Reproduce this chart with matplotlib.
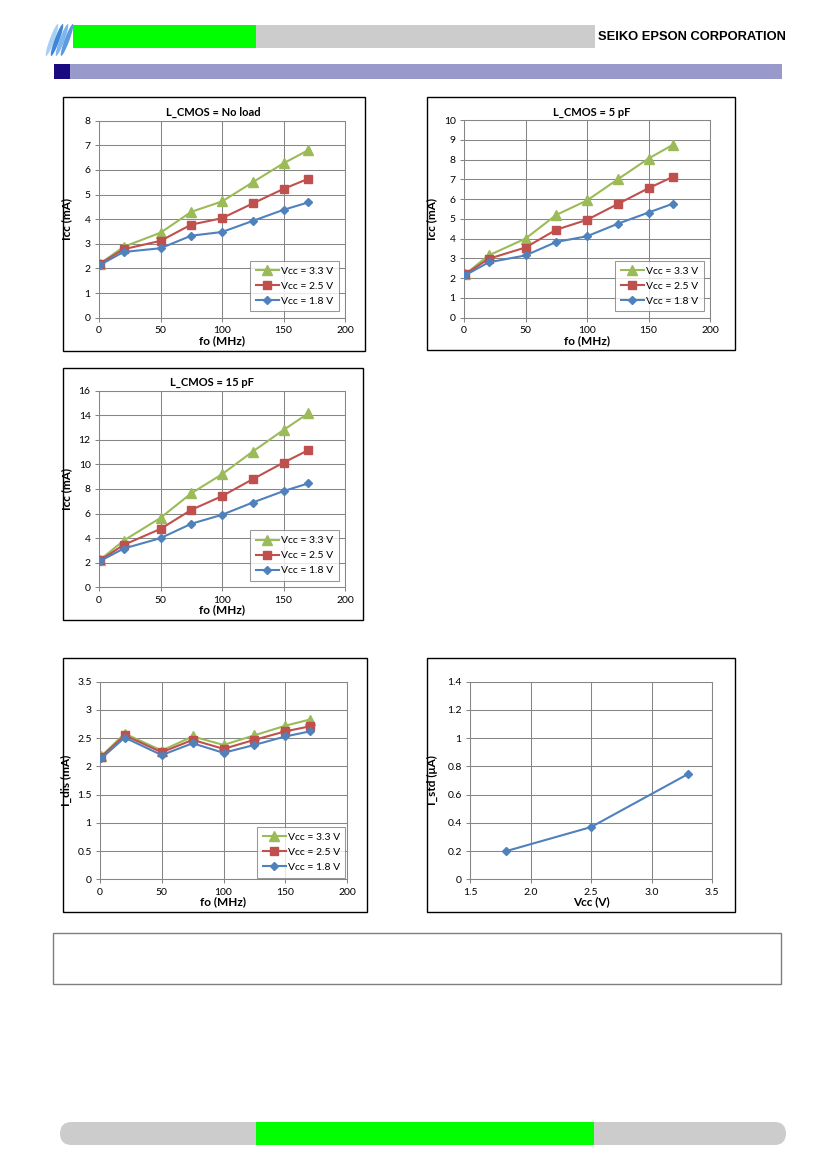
import matplotlib
matplotlib.use("Agg")
import matplotlib.pyplot as plt
from matplotlib.patches import Rectangle, FancyBboxPatch, Ellipse
from matplotlib.ticker import MultipleLocator, FormatStrFormatter, FuncFormatter

plt.rcParams['font.family'] = ['Lato', 'DejaVu Sans']

# ---------------- data ----------------
fo_mhz = [1, 20, 50, 75, 100, 125, 150, 170]
series_labels = ["Vcc = 3.3 V", "Vcc = 2.5 V", "Vcc = 1.8 V"]

icc_noload_33 = [2.20, 2.88, 3.45, 4.30, 4.72, 5.50, 6.27, 6.80]
icc_noload_25 = [2.20, 2.78, 3.12, 3.78, 4.04, 4.64, 5.23, 5.64]
icc_noload_18 = [2.15, 2.67, 2.82, 3.33, 3.48, 3.93, 4.38, 4.68]

icc_5pf_33 = [2.20, 3.15, 4.00, 5.20, 5.93, 7.00, 8.05, 8.75]
icc_5pf_25 = [2.20, 2.98, 3.55, 4.45, 4.95, 5.75, 6.55, 7.13]
icc_5pf_18 = [2.15, 2.80, 3.15, 3.83, 4.12, 4.75, 5.32, 5.77]

icc_15pf_33 = [2.25, 3.80, 5.65, 7.65, 9.20, 11.05, 12.80, 14.15]
icc_15pf_25 = [2.20, 3.45, 4.75, 6.30, 7.42, 8.80, 10.15, 11.15]
icc_15pf_18 = [2.15, 3.15, 4.00, 5.17, 5.90, 6.90, 7.83, 8.45]

idis_33 = [2.18, 2.58, 2.28, 2.53, 2.38, 2.55, 2.72, 2.83]
idis_25 = [2.17, 2.55, 2.25, 2.47, 2.31, 2.47, 2.62, 2.71]
idis_18 = [2.14, 2.51, 2.20, 2.41, 2.24, 2.38, 2.53, 2.62]

vcc_v = [1.8, 2.5, 3.3]
istd_ua = [0.20, 0.37, 0.745]

titles = ["L_CMOS = No load", "L_CMOS = 5 pF", "L_CMOS = 15 pF"]

# ---------------- styling ----------------
W, H = 827, 1169
GREEN, RED, BLUE = "#9BBB59", "#C0504D", "#4F81BD"
GRID = "#868686"
colors = [GREEN, RED, BLUE]
markers = ["^", "s", "D"]
msizes = [6.5, 6.0, 4.5]

fig = plt.figure(figsize=(W / 100, H / 100), dpi=100)


def fx(x):
    return x / W


def fy(y):
    return 1 - y / H


def add_axes_px(x0, y0, x1, y1):
    return fig.add_axes([fx(x0), fy(y1), (x1 - x0) / W, (y1 - y0) / H])


def frame_px(x0, y0, x1, y1, ec="black", lw=1.0):
    fig.patches.append(Rectangle((fx(x0), fy(y1)), (x1 - x0) / W, (y1 - y0) / H,
                                 transform=fig.transFigure, fill=False,
                                 edgecolor=ec, linewidth=lw))


def style_axes(ax, xlim, ylim, xstep, ystep, xlabel, ylabel, xfmt=None, yfmt=None):
    ax.set_xlim(*xlim)
    ax.set_ylim(*ylim)
    ax.xaxis.set_major_locator(MultipleLocator(xstep))
    ax.yaxis.set_major_locator(MultipleLocator(ystep))
    if xfmt:
        ax.xaxis.set_major_formatter(xfmt)
    if yfmt:
        ax.yaxis.set_major_formatter(yfmt)
    ax.grid(True, color=GRID, linewidth=0.75)
    ax.set_axisbelow(True)
    for s in ax.spines.values():
        s.set_color(GRID)
        s.set_linewidth(0.75)
    ax.tick_params(labelsize=7.5, length=3, width=0.75, color=GRID, pad=3)
    ax.set_xlabel(xlabel, fontsize=8.5, fontweight="bold", labelpad=0)
    ax.set_ylabel(ylabel, fontsize=8.5, fontweight="bold", labelpad=2)


def general_fmt(v, pos):
    s = f"{v:.2f}".rstrip("0").rstrip(".")
    return "0" if s in ("-0", "") else s


def draw_lines(ax, x, ys):
    handles = []
    for y, c, m, ms, lab in zip(ys, colors, markers, msizes, series_labels):
        h, = ax.plot(x, y, color=c, marker=m, markersize=ms, linewidth=1.5,
                     markeredgecolor=c, label=lab, zorder=3)
        handles.append(h)
    return handles


def legend(ax, handles, pad):
    lg = ax.legend(handles=handles, loc="lower right", fontsize=7.5, frameon=True,
                   fancybox=False, edgecolor="#7f7f7f", borderaxespad=pad,
                   handlelength=2.2, handletextpad=0.2, labelspacing=0.55,
                   borderpad=0.55)
    lg.get_frame().set_linewidth(0.75)


# ---------------- header ----------------
fig.patches.append(Rectangle((fx(73), fy(48)), (256 - 73) / W, 23 / H,
                             transform=fig.transFigure, color="#00FF00", lw=0))
fig.patches.append(Rectangle((fx(256), fy(48)), (595 - 256) / W, 23 / H,
                             transform=fig.transFigure, color="#CCCCCC", lw=0))
fig.text(fx(786), fy(37), "SEIKO EPSON CORPORATION", ha="right", va="center",
         fontsize=9.3, fontweight="bold",
         family=["Liberation Sans Narrow", "Liberation Sans", "DejaVu Sans"])
fig.patches.append(Rectangle((fx(54), fy(79)), (782 - 54) / W, 15 / H,
                             transform=fig.transFigure, color="#9999CC", lw=0))
fig.patches.append(Rectangle((fx(54), fy(79)), 16 / W, 15 / H,
                             transform=fig.transFigure, color="#1A0A80", lw=0))
# stylised logo
for i, c in enumerate(["#A8D0F4", "#3F86D6", "#7DB6EC", "#5A9BE0"]):
    cx, cy = 52 + i * 5, 40
    fig.patches.append(Ellipse((fx(cx), fy(cy)), 4.5 / W, 36 / H, angle=-28,
                               transform=fig.transFigure, color=c, lw=0))

# ---------------- chart frames ----------------
frame_px(63, 97, 365, 351)
frame_px(427, 97, 735, 350)
frame_px(63, 368, 363, 620)
frame_px(63, 658, 367, 912)
frame_px(427, 658, 735, 912)

# ---------------- chart 1 ----------------
ax1 = add_axes_px(99, 120.7, 345, 317.7)
h = draw_lines(ax1, fo_mhz, [icc_noload_33, icc_noload_25, icc_noload_18])
style_axes(ax1, (0, 200), (0, 8), 50, 1, "fo (MHz)", "Icc (mA)")
ax1.yaxis.set_label_coords((72 - 99) / 246, 0.5)
legend(ax1, h, 0.6)
fig.text(fx(213), fy(112), titles[0], ha="center", va="center", fontsize=8, fontweight="bold")

# ---------------- chart 2 ----------------
ax2 = add_axes_px(464, 120, 710, 317.7)
h = draw_lines(ax2, fo_mhz, [icc_5pf_33, icc_5pf_25, icc_5pf_18])
style_axes(ax2, (0, 200), (0, 10), 50, 1, "fo (MHz)", "Icc (mA)")
ax2.yaxis.set_label_coords((437 - 464) / 246, 0.5)
legend(ax2, h, 0.6)
fig.text(fx(592), fy(112), titles[1], ha="center", va="center", fontsize=8, fontweight="bold")

# ---------------- chart 3 ----------------
ax3 = add_axes_px(99, 390.7, 345, 587.3)
h = draw_lines(ax3, fo_mhz, [icc_15pf_33, icc_15pf_25, icc_15pf_18])
style_axes(ax3, (0, 200), (0, 16), 50, 2, "fo (MHz)", "Icc (mA)")
ax3.yaxis.set_label_coords((72 - 99) / 246, 0.5)
legend(ax3, h, 0.6)
fig.text(fx(212), fy(382), titles[2], ha="center", va="center", fontsize=8, fontweight="bold")

# ---------------- chart 4 ----------------
ax4 = add_axes_px(100, 681.7, 347, 879.3)
h = draw_lines(ax4, fo_mhz, [idis_33, idis_25, idis_18])
style_axes(ax4, (0, 200), (0, 3.5), 50, 0.5, "fo (MHz)", "I_dis (mA)",
           yfmt=FuncFormatter(general_fmt))
ax4.yaxis.set_label_coords((72 - 100) / 247, 0.5)
legend(ax4, h, 0.15)

# ---------------- chart 5 ----------------
ax5 = add_axes_px(470, 681.7, 712, 879.3)
ax5.plot(vcc_v, istd_ua, color=BLUE, marker="D", markersize=4.5, linewidth=1.5, zorder=3)
style_axes(ax5, (1.5, 3.5), (0, 1.4), 0.5, 0.2, "Vcc (V)", "I_std (\u03bcA)",
           xfmt=FormatStrFormatter("%.1f"), yfmt=FuncFormatter(general_fmt))
ax5.yaxis.set_label_coords((438 - 470) / 242, 0.5)

# ---------------- note box ----------------
frame_px(53, 933, 781, 984, ec="#7f7f7f", lw=1.0)

# ---------------- footer ----------------
fig.patches.append(FancyBboxPatch((fx(60), fy(1145)), (786 - 60) / W, 23 / H,
                                  boxstyle="round,pad=0,rounding_size=0.0139",
                                  transform=fig.transFigure, color="#CCCCCC", lw=0,
                                  mutation_aspect=W / H))
fig.patches.append(Rectangle((fx(256), fy(1145)), (594 - 256) / W, 23 / H,
                             transform=fig.transFigure, color="#00FF00", lw=0))

fig.savefig("out.png", dpi=100)
